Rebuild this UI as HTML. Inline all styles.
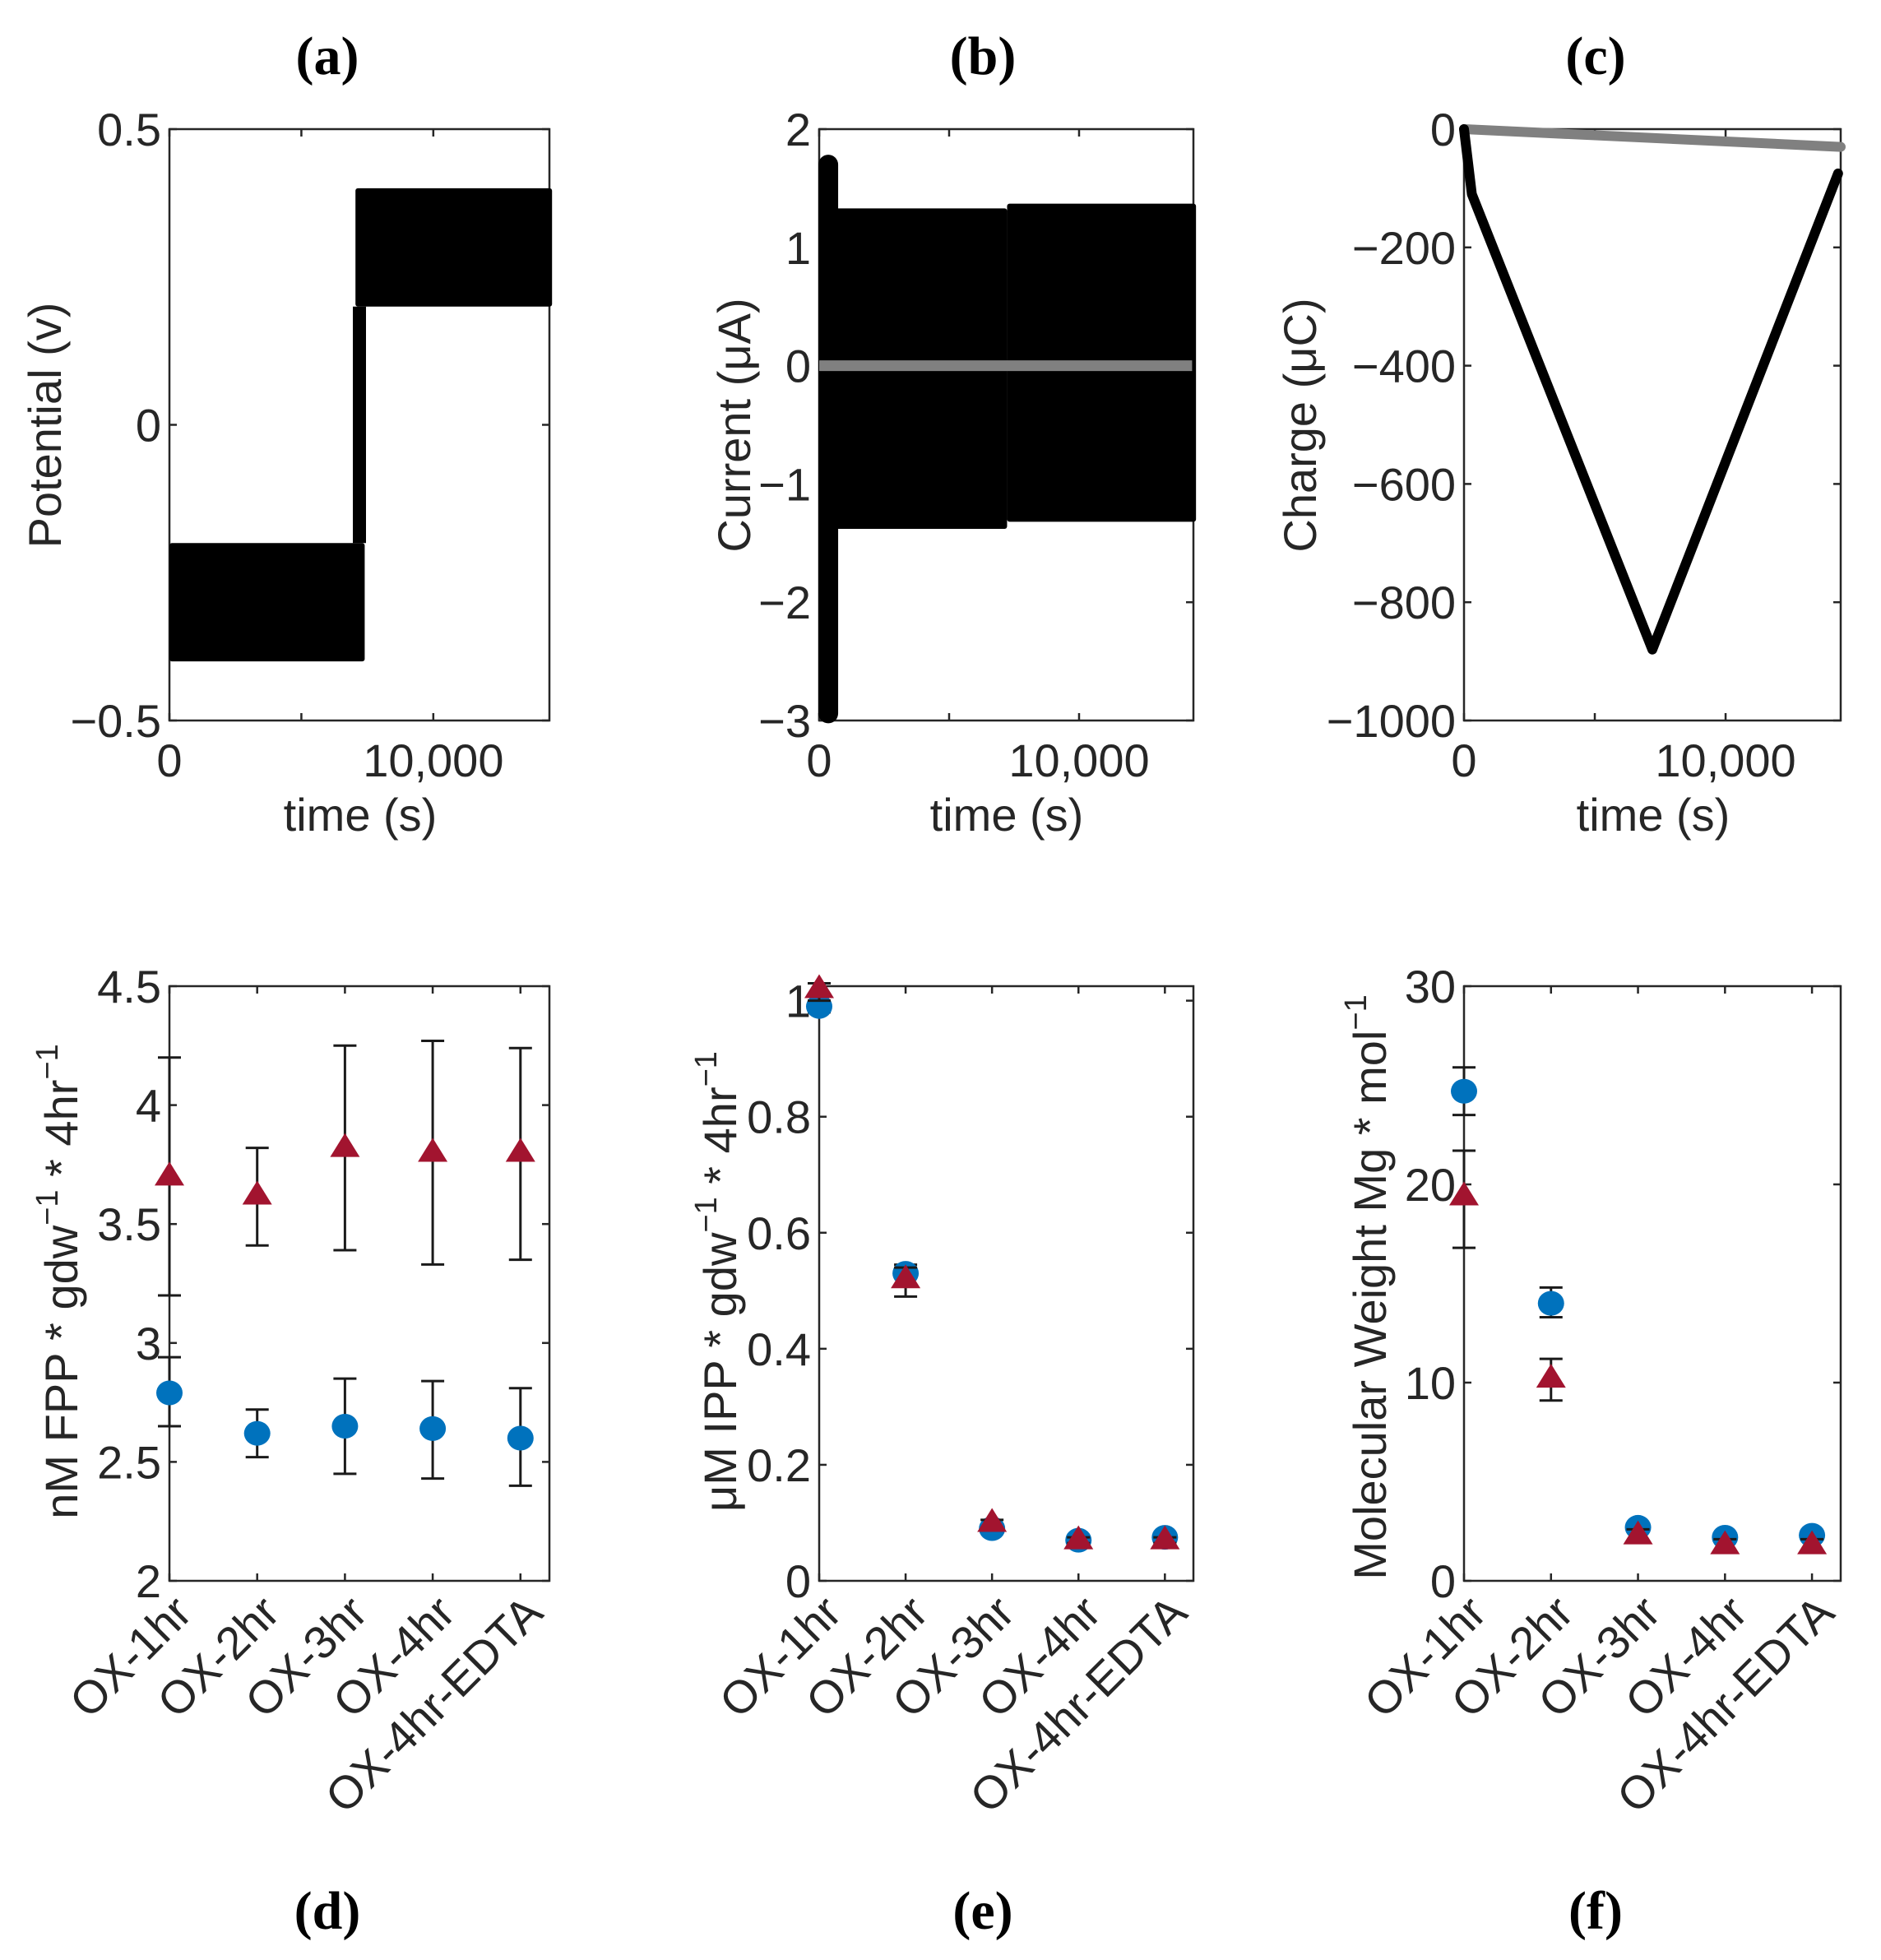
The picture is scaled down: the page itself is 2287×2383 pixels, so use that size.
<!DOCTYPE html>
<html><head><meta charset="utf-8"><style>
html,body{margin:0;padding:0;background:#fff;}
svg{display:block;}
text{font-family:"Liberation Sans",sans-serif;fill:#262626;}
.pl{font-family:"Liberation Serif",serif;font-weight:bold;fill:#000;}
</style></head><body>
<svg id="fig" width="2287" height="2383" viewBox="0 0 2287 2383" xmlns="http://www.w3.org/2000/svg"></svg>
<script>
// ---- data ----
const timeMax = 14400;
const potT0 = [0, 7050];
const potT1 = [7400, 14500];
const potLow = [-0.4, 0.2];
const potHigh = [-0.2, 0.4];
const potStepT = 7200;
const spikeT = 350, spikeMin = -2.94, spikeMax = 1.70;
const curT0 = [350, 7230];
const curT1 = [7230, 14500];
const curLow = [-1.38, -1.32];
const curHigh = [1.33, 1.37];
const grayCurT = [0, 14350];
const grayCurV = [0, 0];
const chargeT = [0, 300, 7200, 14300];
const chargeV = [0, -110, -880, -75];
const grayChT = [0, 14400];
const grayChV = [0, -30];
const categories = ["OX-1hr","OX-2hr","OX-3hr","OX-4hr","OX-4hr-EDTA"];
const dRed = [3.70, 3.62, 3.82, 3.80, 3.80];
const dRedLo = [3.20, 3.41, 3.39, 3.33, 3.35];
const dRedHi = [4.20, 3.82, 4.25, 4.27, 4.24];
const dBlue = [2.79, 2.62, 2.65, 2.64, 2.60];
const dBlueLo = [2.65, 2.52, 2.45, 2.43, 2.40];
const dBlueHi = [2.94, 2.72, 2.85, 2.84, 2.81];
const eRed = [1.02, 0.52, 0.10, 0.07, 0.07];
const eRedLo = [1.00, 0.49, 0.09, 0.065, 0.065];
const eRedHi = [1.03, 0.54, 0.105, 0.075, 0.075];
const eBlue = [0.99, 0.53, 0.09, 0.07, 0.075];
const eBlueLo = [0.98, 0.51, 0.085, 0.065, 0.07];
const eBlueHi = [1.00, 0.545, 0.095, 0.075, 0.08];
const fRed = [19.4, 10.2, 2.3, 1.8, 1.8];
const fRedLo = [16.8, 9.1, 2.0, 1.5, 1.5];
const fRedHi = [21.7, 11.2, 2.6, 2.1, 2.1];
const fBlue = [24.7, 14.0, 2.7, 2.2, 2.3];
const fBlueLo = [23.5, 13.3, 2.5, 2.0, 2.1];
const fBlueHi = [25.9, 14.8, 2.9, 2.4, 2.5];
const aTicks = [-0.5, 0, 0.5], aTickLbl = ["\u22120.5","0","0.5"];
const bTicks = [-3,-2,-1,0,1,2], bTickLbl = ["\u22123","\u22122","\u22121","0","1","2"];
const cTicks = [-1000,-800,-600,-400,-200,0], cTickLbl = ["\u22121000","\u2212800","\u2212600","\u2212400","\u2212200","0"];
const dTicks = [2,2.5,3,3.5,4,4.5], dTickLbl = ["2","2.5","3","3.5","4","4.5"];
const eTicks = [0,0.2,0.4,0.6,0.8,1], eTickLbl = ["0","0.2","0.4","0.6","0.8","1"];
const fTicks = [0,10,20,30], fTickLbl = ["0","10","20","30"];
const tTicks = [0,5000,10000], tTickLbl = ["0","","10,000"];

const NS = "http://www.w3.org/2000/svg";
const svg = document.getElementById("fig");
function el(tag, attrs, parent, txt){
  const e = document.createElementNS(NS, tag);
  for (const k in attrs) e.setAttribute(k, attrs[k]);
  if (txt !== undefined) e.textContent = txt;
  (parent||svg).appendChild(e);
  return e;
}
const cols = [[206,668],[996,1451],[1780,2238]];
const rows = [[157,876],[1199,1922]];
const FS = 56;
function mkAxes(c, r, xmin, xmax, ymin, ymax, name){
  const [x0,x1] = cols[c], [y0,y1] = rows[r];
  const g = el("g", {});
  
  
  return {g, x:v=>x0+(v-xmin)/(xmax-xmin)*(x1-x0), y:v=>y1-(v-ymin)/(ymax-ymin)*(y1-y0), x0,x1,y0,y1};
}
function frame(ax, yt, ytl, xt, xtl, rot){
  const g = ax.g;
  const fr = el("rect",{x:ax.x0,y:ax.y0,width:ax.x1-ax.x0,height:ax.y1-ax.y0,fill:"none",stroke:"#262626","stroke-width":2.5},g);
  
  
  yt.forEach((v,i)=>{
    const y = ax.y(v);
    el("line",{x1:ax.x0,x2:ax.x0+9,y1:y,y2:y,stroke:"#262626","stroke-width":2.5},g);
    el("line",{x1:ax.x1,x2:ax.x1-9,y1:y,y2:y,stroke:"#262626","stroke-width":2.5},g);
    const t = el("text",{x:ax.x0-10,y:y+20,"text-anchor":"end","font-size":FS},g,ytl[i]);
    
    
  });
  xt.forEach((v,i)=>{
    const x = ax.x(v);
    el("line",{x1:x,x2:x,y1:ax.y1,y2:ax.y1-9,stroke:"#262626","stroke-width":2.5},g);
    el("line",{x1:x,x2:x,y1:ax.y0,y2:ax.y0+9,stroke:"#262626","stroke-width":2.5},g);
    let t;
    if (rot) {
      t = el("text",{x:x+30,y:ax.y1+42,"text-anchor":"end","font-size":FS,transform:`rotate(-45 ${x+30} ${ax.y1+42})`},g,xtl[i]);
    } else {
      t = el("text",{x:x,y:ax.y1+68,"text-anchor":"middle","font-size":FS},g,xtl[i]);
    }
    
    
  });
}
function ylabel(x, y, txt, name){
  const t = el("text",{x:x,y:y,"text-anchor":"middle","font-size":FS,transform:`rotate(-90 ${x} ${y})`},svg);
  t.innerHTML = txt;
  
  
}
function label(x,y,txt,name,cls,size){
  const t = el("text",{x:x,y:y,"text-anchor":"middle","font-size":size,class:cls||""},svg,txt);
  
  
}

// panel a
{
  const ax = mkAxes(0,0,0,timeMax,-0.5,0.5,"panel-a");
  frame(ax,aTicks,aTickLbl,tTicks,tTickLbl,false);
  potT0.forEach((t,i)=>{
    const r = el("rect",{x:ax.x(t),y:ax.y(potHigh[i]),width:ax.x(potT1[i])-ax.x(t),height:ax.y(potLow[i])-ax.y(potHigh[i]),fill:"#000",rx:3},ax.g);
    
    
  });
  const s = el("line",{x1:ax.x(potStepT),x2:ax.x(potStepT),y1:ax.y(potHigh[0]),y2:ax.y(potLow[1]),stroke:"#000","stroke-width":16},ax.g);
  
  
  label(438,1010,"time (s)","x-axis-title-a","",FS);
  ylabel(74,517,"Potential (v)","y-axis-title-a");
}
// panel b
{
  const ax = mkAxes(1,0,0,timeMax,-3,2,"panel-b");
  frame(ax,bTicks,bTickLbl,tTicks,tTickLbl,false);
  curT0.forEach((t,i)=>{
    const r = el("rect",{x:ax.x(t),y:ax.y(curHigh[i]),width:ax.x(curT1[i])-ax.x(t),height:ax.y(curLow[i])-ax.y(curHigh[i]),fill:"#000",rx:3},ax.g);
    
    
  });
  const s = el("line",{x1:ax.x(spikeT),x2:ax.x(spikeT),y1:ax.y(spikeMax),y2:ax.y(spikeMin),stroke:"#000","stroke-width":24,"stroke-linecap":"round"},ax.g);
  
  
  const gl = el("line",{x1:ax.x(grayCurT[0]),x2:ax.x(grayCurT[1]),y1:ax.y(grayCurV[0]),y2:ax.y(grayCurV[1]),stroke:"#808080","stroke-width":13},ax.g);
  
  
  label(1224,1010,"time (s)","x-axis-title-b","",FS);
  ylabel(912,517,"Current (\u03bcA)","y-axis-title-b");
}
// panel c
{
  const ax = mkAxes(2,0,0,timeMax,-1000,0,"panel-c");
  frame(ax,cTicks,cTickLbl,tTicks,tTickLbl,false);
  const gp = el("polyline",{points:grayChT.map((t,i)=>ax.x(t)+","+ax.y(grayChV[i])).join(" "),fill:"none",stroke:"#808080","stroke-width":12,"stroke-linecap":"round"},ax.g);
  
  
  const p = el("polyline",{points:chargeT.map((t,i)=>ax.x(t)+","+ax.y(chargeV[i])).join(" "),fill:"none",stroke:"#000","stroke-width":12,"stroke-linejoin":"round","stroke-linecap":"round"},ax.g);
  
  
  label(2010,1010,"time (s)","x-axis-title-c","",FS);
  ylabel(1600,517,"Charge (\u03bcC)","y-axis-title-c");
}
// bottom panels
const catIdx = categories.map((c,i)=>i+1);
function scatterPanel(c, ymin, ymax, yt, ytl, red, redLo, redHi, blue, blueLo, blueHi, name){
  const ax = mkAxes(c,1,1,5.33,ymin,ymax,name);
  frame(ax,yt,ytl,catIdx,categories,true);
  function bars(lo,hi){
    catIdx.forEach((k,i)=>{
      const x = ax.x(k);
      const b = el("path",{d:`M${x},${ax.y(lo[i])}V${ax.y(hi[i])}M${x-14},${ax.y(lo[i])}H${x+14}M${x-14},${ax.y(hi[i])}H${x+14}`,stroke:"#1a1a1a","stroke-width":3,fill:"none"},ax.g);
      
      
    });
  }
  bars(blueLo,blueHi);
  catIdx.forEach((k,i)=>{
    const m = el("ellipse",{cx:ax.x(k),cy:ax.y(blue[i]),rx:16,ry:15,fill:"#0072bd"},ax.g);
    
    
  });
  bars(redLo,redHi);
  catIdx.forEach((k,i)=>{
    const x = ax.x(k), y = ax.y(red[i]);
    const m = el("polygon",{points:`${x},${y-18} ${x-18},${y+11} ${x+18},${y+11}`,fill:"#a2142f"},ax.g);
    
    
  });
}
scatterPanel(0,2,4.5,dTicks,dTickLbl,dRed,dRedLo,dRedHi,dBlue,dBlueLo,dBlueHi,"panel-d");
scatterPanel(1,0,1.025,eTicks,eTickLbl,eRed,eRedLo,eRedHi,eBlue,eBlueLo,eBlueHi,"panel-e");
scatterPanel(2,0,30,fTicks,fTickLbl,fRed,fRedLo,fRedHi,fBlue,fBlueLo,fBlueHi,"panel-f");
ylabel(94,1558,'nM FPP * gdw<tspan dy="-24" font-size="38">\u22121</tspan><tspan dy="24"> * 4hr</tspan><tspan dy="-24" font-size="38">\u22121</tspan>',"y-axis-title-d");
ylabel(895,1558,'\u03bcM IPP * gdw<tspan dy="-24" font-size="38">\u22121</tspan><tspan dy="24"> * 4hr</tspan><tspan dy="-24" font-size="38">\u22121</tspan>',"y-axis-title-e");
ylabel(1685,1565,'Molecular Weight Mg * mol<tspan dy="-24" font-size="38">\u22121</tspan>',"y-axis-title-f");

// panel letters
label(398,90,"(a)","panel-label-a","pl",66);
label(1195,90,"(b)","panel-label-b","pl",66);
label(1940,90,"(c)","panel-label-c","pl",66);
label(398,2345,"(d)","panel-label-d","pl",66);
label(1195,2345,"(e)","panel-label-e","pl",66);
label(1940,2345,"(f)","panel-label-f","pl",66);
</script>
</body></html>
